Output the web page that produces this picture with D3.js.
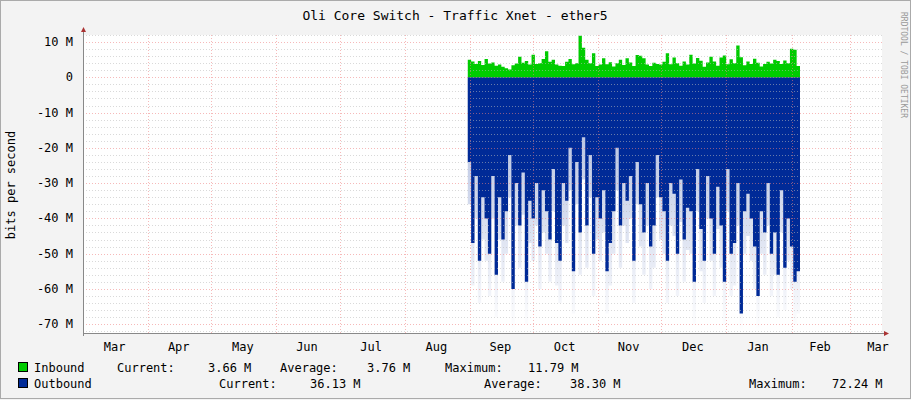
<!DOCTYPE html>
<html><head><meta charset="utf-8">
<script src="https://cdn.jsdelivr.net/npm/d3@7"></script>
<style>body{margin:0;background:#f3f3f3}svg{display:block}</style>
</head><body><svg id="c" width="911" height="400"></svg>
<script>
const title = "Oli Core Switch - Traffic Xnet - ether5";
const yTicks = [10, 0, -10, -20, -30, -40, -50, -60, -70];
const monthLabels = ["Mar","Apr","May","Jun","Jul","Aug","Sep","Oct","Nov","Dec","Jan","Feb","Mar"];
const dataStart = new Date(2014, 7, 31);
const dataEnd = new Date(2015, 1, 5);
const inbound = [5,4.5,3.8,4.6,3.5,5.2,3.9,4.2,3.3,3.6,3.0,2.6,2.2,3.4,3.9,5.8,4.1,4.6,3.6,6.4,3.8,4.0,5.2,7.4,4.4,5.0,3.6,3.3,3.2,4.4,5.2,3.7,4.0,11.8,8.4,5.0,4.0,6.8,3.2,3.6,5.4,3.7,4.3,3.1,4.0,5.0,3.5,5.4,4.2,3.2,6.3,6.1,5.4,3.6,3.2,4.1,3.8,3.6,4.4,6.8,3.7,5.6,4.0,3.3,4.5,3.6,6.4,3.9,5.5,4.7,3.0,4.2,5.8,4.5,3.3,5.6,6.2,3.7,5.1,4.0,9.0,5.7,3.4,4.5,3.8,5.3,4.1,3.1,3.8,4.4,3.9,5.0,4.6,3.8,4.8,4.0,8.1,7.8,3.2,4.9];
const outbound = [24,47,28,52,34,40,50,28,56,34,46,38,22,60,30,42,27,58,35,40,30,48,32,38,46,26,47,52,30,35,20,55,24,44,17,42,22,50,34,40,32,55,47,38,20,42,30,35,28,52,24,36,44,30,48,42,22,34,38,52,30,33,50,29,46,37,38,58,26,43,52,28,40,50,31,42,58,26,50,47,30,67,38,33,40,48,62,38,44,30,50,44,56,32,54,40,48,58,55,34];

const svg = d3.select("#c");
const L = 83, R = 882, T = 35, B = 333;
const x = d3.scaleTime().domain([new Date(2014,2,1), new Date(2015,2,16)]).range([L, R]);
const y = d3.scaleLinear().domain([-72.5, 12]).range([B, T]);
svg.append("rect").attr("x",L).attr("y",T).attr("width",R-L).attr("height",B-T).attr("fill","#fff");
// data
const t = d3.scaleLinear().domain([0, outbound.length-1]).range([dataStart, dataEnd]);
const ti = d3.scaleLinear().domain([0, inbound.length-1]).range([dataStart, dataEnd]);
const grad = svg.append("defs").append("linearGradient").attr("id","g").attr("x1",0).attr("x2",0).attr("y1",0).attr("y2",1);
grad.append("stop").attr("offset","0").attr("stop-color","#002a97").attr("stop-opacity",0.35);
grad.append("stop").attr("offset","1").attr("stop-color","#002a97").attr("stop-opacity",0);
svg.append("path").datum(outbound).attr("fill","url(#g)")
  .attr("d", d3.area().curve(d3.curveStepAfter).x((d,i)=>x(t(i))).y0(y(0)).y1(d=>y(-Math.min(72,d+12))));
svg.append("path").datum(outbound).attr("fill","#002a97")
  .attr("d", d3.area().curve(d3.curveStepAfter).x((d,i)=>x(t(i))).y0(y(0)).y1(d=>y(-d)));
svg.append("path").datum(inbound).attr("fill","#00cc00")
  .attr("d", d3.area().curve(d3.curveStepAfter).x((d,i)=>x(ti(i))).y0(y(0)).y1(d=>y(d)));
// grid on top
const gg = svg.append("g").attr("opacity",0.55);
for (let v=-72; v<=12; v+=2) if (v%10!==0) gg.append("line").attr("x1",L).attr("x2",R).attr("y1",Math.round(y(v))+.5).attr("y2",Math.round(y(v))+.5).attr("stroke","#bbb").attr("stroke-dasharray","1,2");
yTicks.forEach(v=>gg.append("line").attr("x1",L).attr("x2",R).attr("y1",Math.round(y(v))+.5).attr("y2",Math.round(y(v))+.5).attr("stroke","#f08080").attr("stroke-dasharray","1,2"));
const months = d3.timeMonth.range(new Date(2014,3,1), new Date(2015,2,2));
months.forEach(m=>gg.append("line").attr("x1",Math.round(x(m))+.5).attr("x2",Math.round(x(m))+.5).attr("y1",T).attr("y2",B).attr("stroke","#f08080").attr("stroke-dasharray","1,2"));
// axes
svg.append("line").attr("x1",L).attr("x2",R+4).attr("y1",B+.5).attr("y2",B+.5).attr("stroke","#888");
svg.append("line").attr("x1",L+.5).attr("x2",L+.5).attr("y1",T-5).attr("y2",B+3).attr("stroke","#888");
svg.append("path").attr("d",`M${R+2},${B-2}L${R+7},${B+.5}L${R+2},${B+3}Z`).attr("fill","#a33");
svg.append("path").attr("d",`M${L-2},${T-3}L${L+.5},${T-8}L${L+3},${T-3}Z`).attr("fill","#a33");
const f = "DejaVu Sans Mono, monospace";
yTicks.forEach(v=>svg.append("text").attr("x",L-10).attr("y",y(v)+4).attr("text-anchor","end").attr("font-family",f).attr("font-size",12).attr("fill","#000").text(v===0?"0":v+" M"));
const labelMonths = d3.timeMonth.range(new Date(2014,2,1), new Date(2015,3,1));
labelMonths.forEach((m,i)=>{
  const mid = new Date((+m + +d3.timeMonth.offset(m,1))/2);
  svg.append("text").attr("x",Math.min(878, x(mid)-1)).attr("y",B+18).attr("text-anchor","middle").attr("font-family",f).attr("font-size",12).text(monthLabels[i]);
});
svg.append("text").attr("x",455).attr("y",20).attr("text-anchor","middle").attr("font-family",f).attr("font-size",13).text(title);
svg.append("text").attr("transform","translate(15,185) rotate(-90)").attr("text-anchor","middle").attr("font-family",f).attr("font-size",12).text("bits per second");
svg.append("text").attr("transform","translate(901,65) rotate(90)").attr("text-anchor","middle").attr("font-family",f).attr("font-size",8).attr("fill","#999").text("RRDTOOL / TOBI OETIKER");
// legend
const leg = [["#00cc00",372,[[34,"Inbound"],[117,"Current:"],[208,"3.66 M"],[280,"Average:"],[367,"3.76 M"],[445,"Maximum:"],[528,"11.79 M"]]],
             ["#002a97",388,[[34,"Outbound"],[219,"Current:"],[310,"36.13 M"],[484,"Average:"],[570,"38.30 M"],[749,"Maximum:"],[832,"72.24 M"]]]];
leg.forEach(([c,yy,items])=>{
  svg.append("rect").attr("x",18.5).attr("y",yy-9.5).attr("width",9).attr("height",9).attr("fill",c).attr("stroke","#000");
  items.forEach(([xx,s])=>svg.append("text").attr("x",xx).attr("y",yy).attr("font-family",f).attr("font-size",12).attr("xml:space","preserve").text(s));
});
svg.append("rect").attr("x",.5).attr("y",.5).attr("width",910).attr("height",398).attr("fill","none").attr("stroke","#aaa");
</script></body></html>
